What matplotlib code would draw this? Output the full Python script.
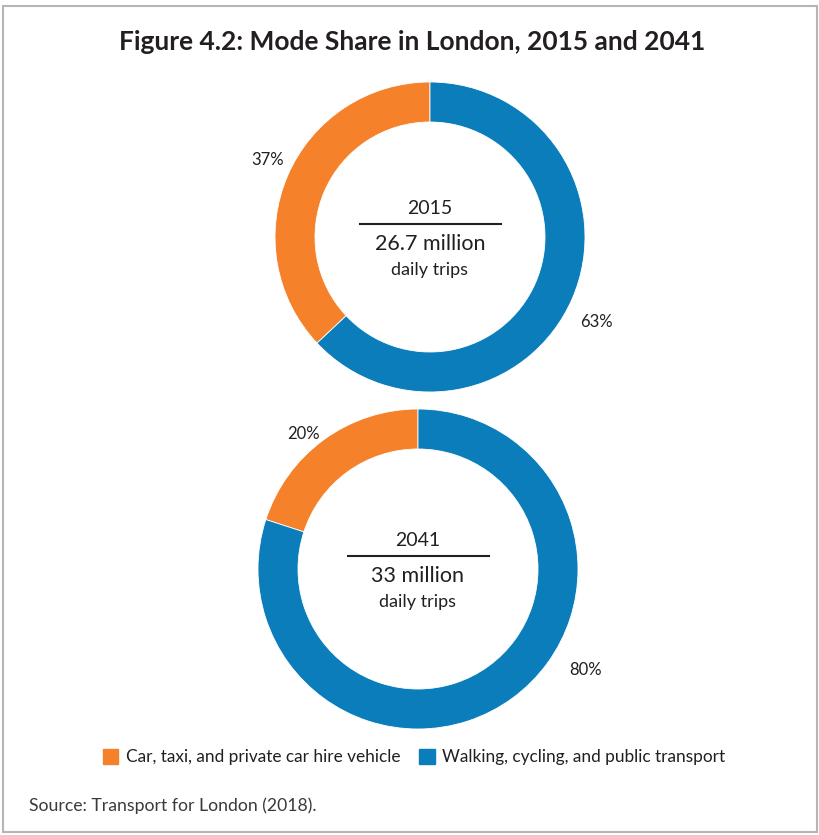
import matplotlib.pyplot as plt
from matplotlib.patches import Rectangle

# Mode share data
years = ["2015", "2041"]
trips = ["26.7 million", "33 million"]
car_share = [37, 20]
sustainable_share = [63, 80]
legend_labels = ["Car, taxi, and private car hire vehicle",
                 "Walking, cycling, and public transport"]

orange = "#F5822A"
blue = "#0A7DBA"
text_color = "#231F20"

plt.rcParams['font.family'] = ['Lato', 'DejaVu Sans']

W, H = 820, 835
fig = plt.figure(figsize=(W / 100, H / 100), dpi=100)
ax = fig.add_axes([0, 0, 1, 1])

# donut layout in pixel units (y measured upward)
centers = [(430, H - 237), (418, H - 569)]
radii = [155, 160]
ring = 40
label_pos = [[(268, H - 160), (596, H - 322)],
             [(304, H - 434), (586, H - 670)]]

for i in range(2):
    cx, cy = centers[i]
    r = radii[i]
    ax.pie([car_share[i], sustainable_share[i]], colors=[orange, blue],
           startangle=90, counterclock=True, center=(cx, cy), radius=r,
           wedgeprops=dict(width=ring, edgecolor="white", linewidth=0.6))
    for (lx, ly), v in zip(label_pos[i], [car_share[i], sustainable_share[i]]):
        ax.text(lx, ly, f"{v}%", ha="center", va="center", fontsize=12,
                color=text_color)
    ax.text(cx, cy + 29, years[i], ha="center", va="center", fontsize=14,
            color=text_color)
    ax.plot([cx - 70, cx + 71], [cy + 13, cy + 13], color=text_color, lw=1.5)
    ax.text(cx, cy - 7, trips[i], ha="center", va="center", fontsize=15.5,
            color=text_color)
    ax.text(cx, cy - 33, "daily trips", ha="center", va="center", fontsize=13,
            color=text_color)

ax.set_xlim(0, W)
ax.set_ylim(0, H)
ax.set_aspect("auto")
ax.axis("off")

# outer frame
ax.add_patch(Rectangle((3, 3), W - 6, H - 9, fill=False, edgecolor="#B5B5B5",
                       lw=1.5))

ax.text(412, H - 42, "Figure 4.2: Mode Share in London, 2015 and 2041",
        ha="center", va="center", fontsize=19, fontweight="bold",
        color=text_color)

# legend
ax.add_patch(Rectangle((103, H - 764), 15, 15, color=orange))
ax.text(126, H - 757, legend_labels[0], ha="left", va="center",
        fontsize=12.4, color=text_color)
ax.add_patch(Rectangle((419, H - 764), 16, 15, color=blue))
ax.text(442, H - 757, legend_labels[1], ha="left", va="center",
        fontsize=12.4, color=text_color)

ax.text(29, H - 806, "Source: Transport for London (2018).", ha="left",
        va="center", fontsize=12.7, color="#3A3A3A")

fig.savefig("out.png", dpi=100)
